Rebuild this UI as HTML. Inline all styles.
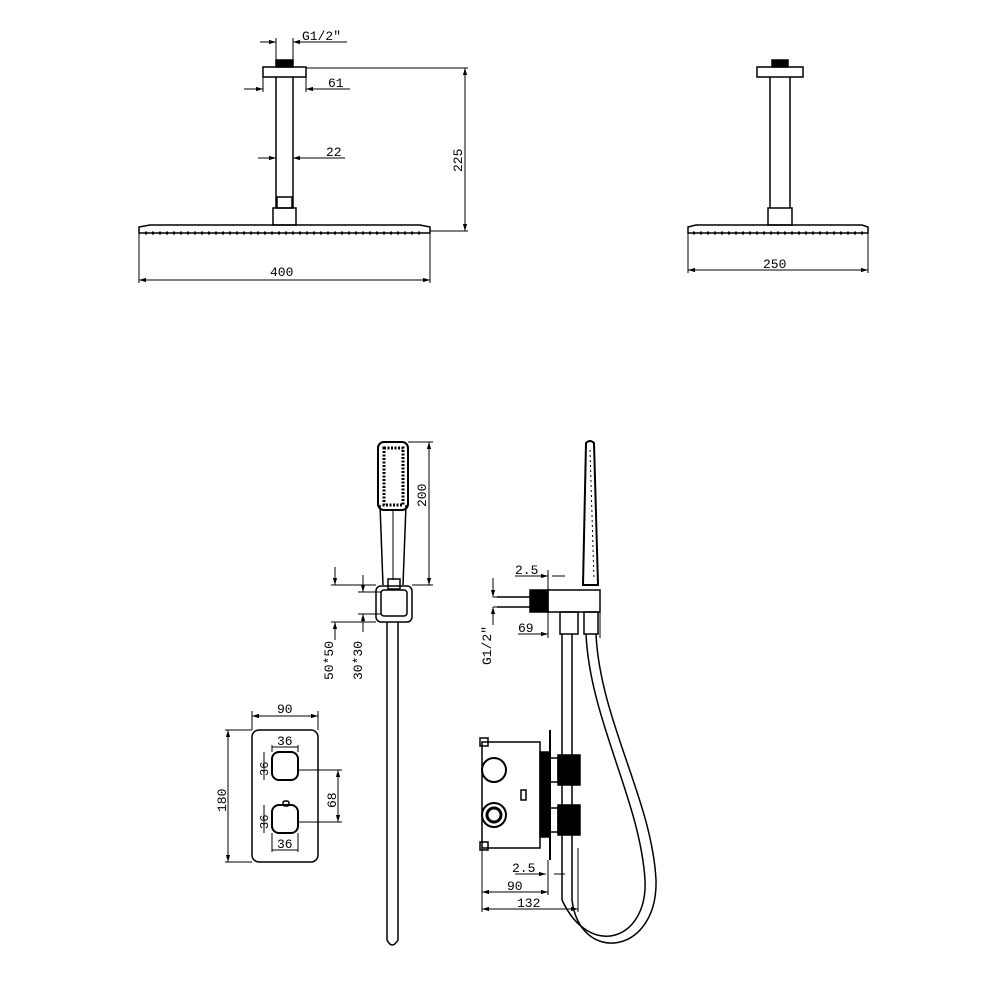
<!DOCTYPE html>
<html><head><style>body{margin:0;background:#fff}svg{display:block}text{font-family:"Liberation Mono",monospace;font-size:13px;fill:#000}</style></head><body>
<svg width="1000" height="1000" viewBox="0 0 1000 1000" xmlns="http://www.w3.org/2000/svg" fill="none" stroke="#000" stroke-width="1.5">
<defs><marker id="a" viewBox="0 0 10 10" refX="10" refY="5" markerWidth="7" markerHeight="7" orient="auto-start-reverse"><path d="M0,2L10,5L0,8z" fill="#000" stroke="none"/></marker></defs>
<!-- top-left -->
<rect x="276" y="60" width="17" height="7" fill="#000"/>
<rect x="263" y="67" width="43" height="10"/>
<line x1="276" y1="77" x2="276" y2="208"/><line x1="293" y1="77" x2="293" y2="208"/>
<rect x="277" y="197" width="15" height="11"/>
<rect x="273" y="208" width="23" height="17"/>
<path d="M139,233 L139,227 L150,225 L420,225 L430,227 L430,233 Z"/>
<path d="M145,233 H425" stroke-dasharray="2,5" stroke-width="3"/>
<g stroke-width="1"><line x1="276" y1="60" x2="276" y2="38"/><line x1="293" y1="60" x2="293" y2="38"/>
<line x1="260" y1="42" x2="276" y2="42" marker-end="url(#a)"/><line x1="347" y1="42" x2="293" y2="42" marker-end="url(#a)"/>
<line x1="263" y1="77" x2="263" y2="92"/><line x1="306" y1="77" x2="306" y2="92"/>
<line x1="244" y1="89" x2="263" y2="89" marker-end="url(#a)"/><line x1="350" y1="89" x2="306" y2="89" marker-end="url(#a)"/>
<line x1="258" y1="158" x2="276" y2="158" marker-end="url(#a)"/><line x1="345" y1="158" x2="293" y2="158" marker-end="url(#a)"/>
<line x1="306" y1="68" x2="468" y2="68"/><line x1="430" y1="231" x2="468" y2="231"/>
<line x1="465" y1="68" x2="465" y2="231" marker-start="url(#a)" marker-end="url(#a)"/>
<line x1="139" y1="233" x2="139" y2="283"/><line x1="430" y1="233" x2="430" y2="283"/>
<line x1="139" y1="280" x2="430" y2="280" marker-start="url(#a)" marker-end="url(#a)"/></g>
<g stroke="none"><text x="302" y="40">G1/2"</text><text x="328" y="87">61</text><text x="326" y="156">22</text><text x="270" y="276">400</text>
<text transform="translate(462,172) rotate(-90)">225</text></g>
<!-- top-right -->
<rect x="772" y="60" width="16" height="7" fill="#000"/>
<rect x="757" y="67" width="46" height="10"/>
<line x1="770" y1="77" x2="770" y2="208"/><line x1="790" y1="77" x2="790" y2="208"/>
<rect x="768" y="208" width="24" height="17"/>
<path d="M688,233 L688,227 L696,225 L862,225 L868,227 L868,233 Z"/>
<path d="M693,233 H864" stroke-dasharray="2,5" stroke-width="3"/>
<g stroke-width="1"><line x1="688" y1="233" x2="688" y2="273"/><line x1="868" y1="233" x2="868" y2="273"/>
<line x1="688" y1="270" x2="868" y2="270" marker-start="url(#a)" marker-end="url(#a)"/></g>
<text x="763" y="268" stroke="none">250</text>
<!-- handshower front -->
<rect x="378" y="442" width="30" height="68" rx="6" stroke-width="2"/>
<rect x="384" y="448" width="19" height="57" stroke-dasharray="2,1.5" stroke-width="3"/>
<path d="M380,505 L383,585 M406,505 L403,585" stroke-width="1.5"/>
<line x1="393" y1="510" x2="393" y2="580" stroke-width="1"/>
<rect x="376" y="586" width="36" height="36" rx="5"/>
<rect x="381" y="590" width="26" height="26" rx="3"/>
<rect x="388" y="579" width="12" height="10"/>
<path d="M387,622 L387,940 Q392,950 398,940 L398,622"/>
<g stroke-width="1"><line x1="408" y1="442" x2="433" y2="442"/><line x1="412" y1="585" x2="433" y2="585"/>
<line x1="429" y1="442" x2="429" y2="585" marker-start="url(#a)" marker-end="url(#a)"/>
<line x1="331" y1="585" x2="376" y2="585"/><line x1="331" y1="622" x2="376" y2="622"/>
<line x1="335" y1="567" x2="335" y2="585" marker-end="url(#a)"/><line x1="335" y1="640" x2="335" y2="622" marker-end="url(#a)"/>
<line x1="358" y1="592" x2="381" y2="592"/><line x1="358" y1="614" x2="381" y2="614"/>
<line x1="363" y1="575" x2="363" y2="592" marker-end="url(#a)"/><line x1="363" y1="632" x2="363" y2="614" marker-end="url(#a)"/></g>
<g stroke="none"><text transform="translate(426,507) rotate(-90)">200</text>
<text transform="translate(333,680) rotate(-90)">50*50</text><text transform="translate(362,680) rotate(-90)">30*30</text></g>
<!-- plate -->
<rect x="252" y="730" width="66" height="132" rx="7" stroke-width="1.5"/>
<rect x="272" y="752" width="26" height="28" rx="7" stroke-width="2"/>
<rect x="272" y="805" width="26" height="28" rx="7" stroke-width="2"/>
<rect x="283" y="801" width="6" height="5" rx="2"/>
<g stroke-width="1"><line x1="252" y1="711" x2="252" y2="730"/><line x1="318" y1="711" x2="318" y2="730"/>
<line x1="252" y1="716" x2="318" y2="716" marker-start="url(#a)" marker-end="url(#a)"/>
<line x1="225" y1="730" x2="252" y2="730"/><line x1="225" y1="862" x2="252" y2="862"/>
<line x1="228" y1="730" x2="228" y2="862" marker-start="url(#a)" marker-end="url(#a)"/>
<line x1="272" y1="745" x2="272" y2="752"/><line x1="298" y1="745" x2="298" y2="752"/>
<line x1="272" y1="747" x2="298" y2="747"/>
<line x1="264" y1="752" x2="264" y2="780"/><line x1="264" y1="805" x2="264" y2="833"/>
<line x1="272" y1="850" x2="298" y2="850"/><line x1="272" y1="833" x2="272" y2="852"/><line x1="298" y1="833" x2="298" y2="852"/>
<line x1="298" y1="770" x2="342" y2="770"/><line x1="298" y1="822" x2="342" y2="822"/>
<line x1="338" y1="770" x2="338" y2="822" marker-start="url(#a)" marker-end="url(#a)"/></g>
<g stroke="none"><text x="277" y="745">36</text><text x="277" y="848">36</text><text x="234" y="255" transform="translate(0,0)"></text>
<text transform="translate(268,776) rotate(-90)" style="font-size:12px">36</text><text transform="translate(268,829) rotate(-90)" style="font-size:12px">36</text>
<text transform="translate(226,812) rotate(-90)">180</text><text transform="translate(336,808) rotate(-90)">68</text><text x="277" y="713">90</text></g>
<!-- side view -->
<path d="M583,585 L586,443 Q590,439 594,443 L598,585 Z" stroke-width="2"/>
<line x1="590" y1="450" x2="594" y2="580" stroke-width="1" stroke-dasharray="2,3"/>
<rect x="530" y="590" width="18" height="22" fill="#000"/>
<rect x="548" y="590" width="52" height="22"/>
<rect x="560" y="612" width="18" height="22"/><rect x="584" y="612" width="14" height="22"/>
<line x1="497" y1="597" x2="530" y2="597"/><line x1="497" y1="607" x2="530" y2="607"/>
<path d="M562,634 L562,900 M572,634 L572,900"/>
<path d="M586,634 C590,720 640,800 645,880 C648,940 590,960 562,900" />
<path d="M596,634 C600,720 652,800 656,880 C658,955 580,965 572,900" />
<path d="M482,742 V848 H540 V742 Z"/>
<rect x="480" y="738" width="8" height="8"/><rect x="480" y="842" width="8" height="8"/>
<rect x="540" y="752" width="10" height="85" fill="#000"/>
<line x1="550" y1="730" x2="550" y2="860" stroke-width="2"/>
<circle cx="494" cy="770" r="12" stroke-width="2"/>
<circle cx="494" cy="815" r="12" stroke-width="2"/><circle cx="494" cy="815" r="7" stroke-width="3"/>
<rect x="521" y="790" width="5" height="10"/>
<rect x="550" y="758" width="8" height="24"/><rect x="558" y="755" width="22" height="30" fill="#000"/>
<rect x="550" y="808" width="8" height="24"/><rect x="558" y="805" width="22" height="30" fill="#000"/>
<g stroke-width="1"><line x1="493" y1="597" x2="520" y2="597"/><line x1="493" y1="607" x2="520" y2="607"/>
<line x1="493" y1="578" x2="493" y2="597" marker-end="url(#a)"/><line x1="493" y1="625" x2="493" y2="607" marker-end="url(#a)"/>
<line x1="515" y1="576" x2="548" y2="576" marker-end="url(#a)"/><line x1="565" y1="576" x2="552" y2="576"/>
<line x1="548" y1="570" x2="548" y2="590"/>
<line x1="518" y1="634" x2="548" y2="634" marker-end="url(#a)"/><line x1="548" y1="612" x2="548" y2="638"/><line x1="600" y1="612" x2="600" y2="638"/>
<line x1="515" y1="874" x2="546" y2="874" marker-end="url(#a)"/><line x1="565" y1="874" x2="554" y2="874"/>
<line x1="482" y1="848" x2="482" y2="912"/><line x1="548" y1="860" x2="548" y2="895"/><line x1="578" y1="848" x2="578" y2="912"/>
<line x1="482" y1="892" x2="548" y2="892" marker-start="url(#a)" marker-end="url(#a)"/>
<line x1="482" y1="909" x2="578" y2="909" marker-start="url(#a)" marker-end="url(#a)"/></g>
<g stroke="none"><text x="515" y="574">2.5</text><text x="518" y="632">69</text><text x="512" y="872">2.5</text><text x="507" y="890">90</text><text x="517" y="907">132</text>
<text transform="translate(491,665) rotate(-90)">G1/2"</text></g>
</svg>
</body></html>
